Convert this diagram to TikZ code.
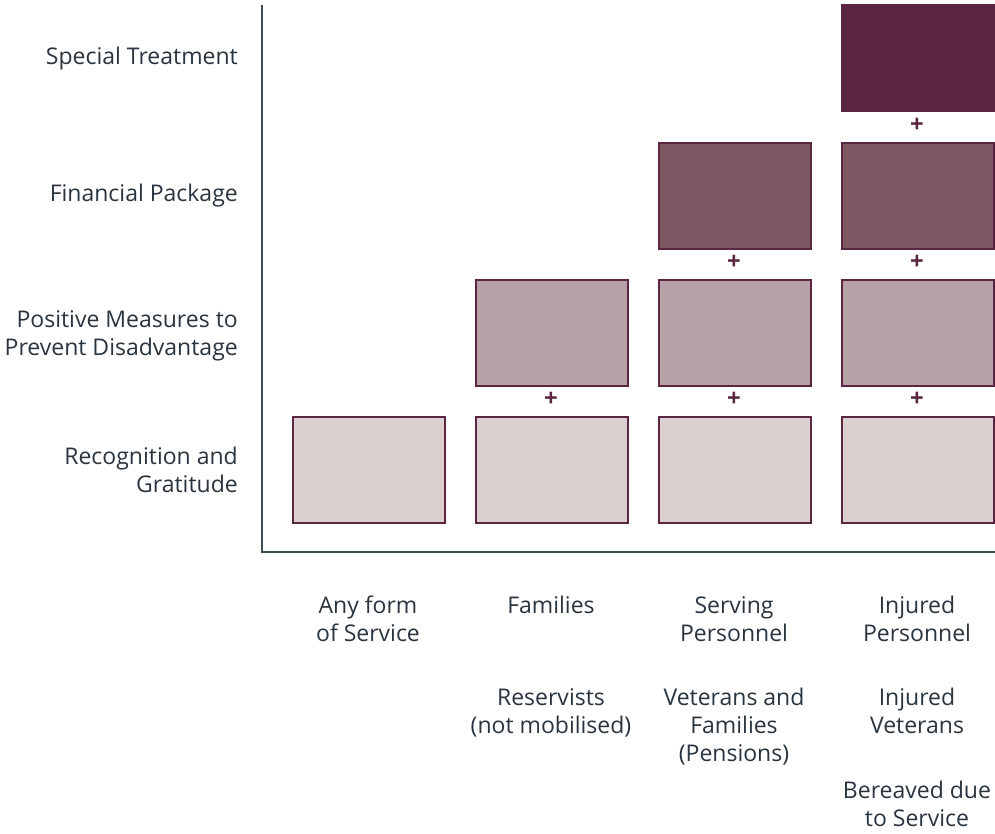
\documentclass[tikz,border=0pt]{standalone}
\usepackage{fontspec}
\setmainfont{Open Sans}
\definecolor{txt}{HTML}{2A343E}
\definecolor{axisc}{HTML}{3E4E56}
\definecolor{plum}{HTML}{5A2642}
\definecolor{cA}{HTML}{DBCFD0}
\definecolor{cB}{HTML}{B8A2A7}
\definecolor{cC}{HTML}{7B5862}
\definecolor{cD}{HTML}{5A2642}
\begin{document}
\begin{tikzpicture}[x=1pt,y=-1pt,
  cell/.style={draw=plum,line width=1.5pt,minimum width=152pt,minimum height=106pt,inner sep=0pt,anchor=north west},
  rowlab/.style={text=txt,font=\fontsize{23}{28}\selectfont,align=right,anchor=base east,inner sep=0pt},
  collab/.style={text=txt,font=\fontsize{23}{28}\selectfont,align=center,anchor=base,inner sep=0pt},
  plus/.style={text=plum,font=\fontsize{24}{24}\selectfont\bfseries,inner sep=0pt}]
\useasboundingbox (0,0) rectangle (995,833);
% axes
\coordinate (top) at (262,5);
\coordinate (origin) at (262,552);
\coordinate (right) at (995,552);
\draw[axisc,line width=2pt] (top) -- (origin) -- (right);
% row 1: recognition
\node[cell,fill=cA] (r1c1) at (292,416) {};
\node[cell,fill=cA] (r1c2) at (475,416) {};
\node[cell,fill=cA] (r1c3) at (658,416) {};
\node[cell,fill=cA] (r1c4) at (841,416) {};
% row 2: positive measures
\node[cell,fill=cB] (r2c2) at (475,279) {};
\node[cell,fill=cB] (r2c3) at (658,279) {};
\node[cell,fill=cB] (r2c4) at (841,279) {};
% row 3: financial
\node[cell,fill=cC] (r3c3) at (658,142) {};
\node[cell,fill=cC] (r3c4) at (841,142) {};
% row 4: special
\node[cell,fill=cD,draw=cD] (r4c4) at (841,4) {};
% plus signs
\node[plus] (p12) at (551,399) {+};
\node[plus] (p13) at (734,399) {+};
\node[plus] (p14) at (917,399) {+};
\node[plus] (p23) at (734,262) {+};
\node[plus] (p24) at (917,262) {+};
\node[plus] (p34) at (917,125) {+};
% row labels (base anchor = baseline of last line)
\node[rowlab] (l4) at (238,64.5) {Special Treatment};
\node[rowlab] (l3) at (238,201.5) {Financial Package};
\node[rowlab] (l2) at (238,355) {Positive Measures to\\Prevent Disadvantage};
\node[rowlab] (l1) at (238,492) {Recognition and\\Gratitude};
% column labels
\node[collab] (b1) at (368,641) {Any form\\of Service};
\node[collab] (b2) at (551,613) {Families};
\node[collab] (b3) at (734,641) {Serving\\Personnel};
\node[collab] (b4) at (917,641) {Injured\\Personnel};
\node[collab] (c2) at (551,733) {Reservists\\(not mobilised)};
\node[collab] (c3) at (734,761) {Veterans and\\Families\\(Pensions)};
\node[collab] (c4) at (917,733) {Injured\\Veterans};
\node[collab] (d4) at (917,826) {Bereaved due\\to Service};
\end{tikzpicture}
\end{document}
